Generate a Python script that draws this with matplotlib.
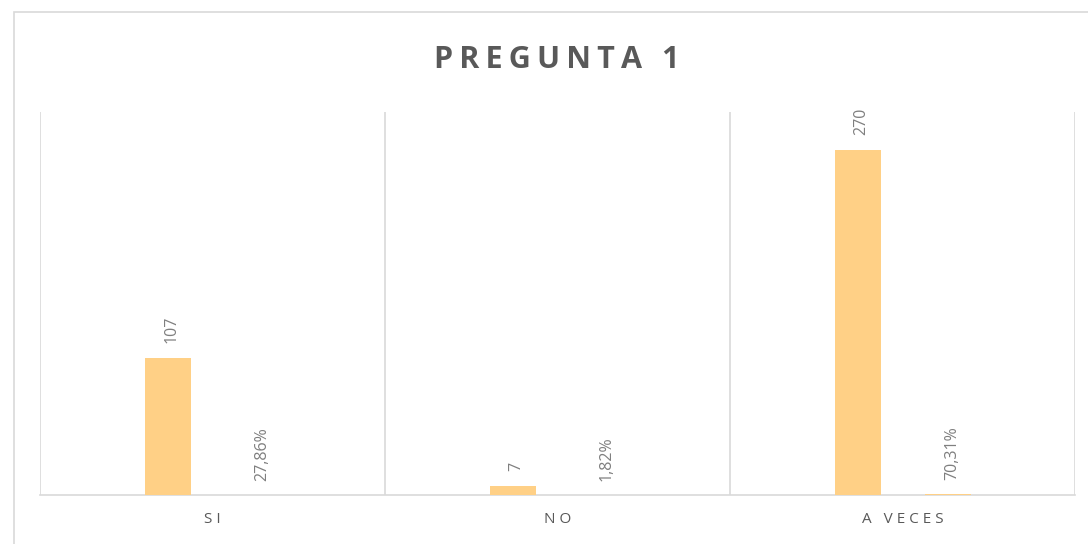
import matplotlib
matplotlib.use("Agg")
from matplotlib import pyplot as plt
from matplotlib.patches import Rectangle

categorias = ["SI", "NO", "A VECES"]
cantidades = [107, 7, 270]
porcentajes = [0.2786, 0.0182, 0.7031]
etiquetas_pct = ["27,86%", "1,82%", "70,31%"]
titulo = "PREGUNTA 1"

COLOR_BARRA = "#FFD086"
GRIS_TEXTO = "#595959"
GRIS_ETIQ = "#7F7F7F"
GRIS_LINEA = "#D9D9D9"

plt.rcParams['font.family'] = ['Open Sans', 'DejaVu Sans']

fig = plt.figure(figsize=(10.88, 5.44), dpi=100)
fig.patch.set_facecolor("white")

# marco del grafico (se sale por la derecha y abajo)
fig.patches.append(Rectangle((14 / 1088, -0.05), 1.2, 1 - 12 / 544 + 0.05,
                             transform=fig.transFigure, fill=False,
                             edgecolor=GRIS_LINEA, linewidth=1.2))

ax = fig.add_axes([40 / 1088, (544 - 495) / 544, (1075 - 40) / 1088, (495 - 112) / 544])

x = list(range(len(categorias)))
ancho = 0.133
x1 = [i - 0.128 for i in x]
x2 = [i + 0.131 for i in x]

ax.bar(x1, cantidades, width=ancho, color=COLOR_BARRA, zorder=3)
ax.bar(x2, porcentajes, width=ancho, color=COLOR_BARRA, zorder=3)

for xi, v in zip(x1, cantidades):
    ax.annotate(str(v), (xi, v), xytext=(2, 11), textcoords="offset points",
                rotation=90, ha="center", va="bottom", fontsize=11.5, color=GRIS_ETIQ)
for xi, v, t in zip(x2, porcentajes, etiquetas_pct):
    ax.annotate(t, (xi, v), xytext=(3, 10), textcoords="offset points",
                rotation=90, ha="center", va="bottom", fontsize=11.5, color=GRIS_ETIQ)

ax.set_xlim(-0.5, len(categorias) - 0.5)
ax.set_ylim(0, 300)

# lineas verticales entre categorias
for b in [i - 0.5 for i in range(len(categorias) + 1)]:
    ax.axvline(b, color=GRIS_LINEA, linewidth=1.2, zorder=1)

for s in ["top", "right", "left"]:
    ax.spines[s].set_visible(False)
ax.spines["bottom"].set_color(GRIS_LINEA)
ax.spines["bottom"].set_linewidth(1.2)

ax.set_yticks([])
ax.set_xticks(x)
ax.set_xticklabels([" ".join(c) for c in categorias], fontsize=11, color=GRIS_TEXTO)
ax.tick_params(axis="x", length=0, pad=12)

# titulo con espaciado entre letras
fig.text(557 / 1088, 1 - 60 / 544, "\u2009".join(titulo),
         ha="center", va="center", fontsize=22, fontweight="bold", color=GRIS_TEXTO)

fig.savefig("out.png", dpi=100)
